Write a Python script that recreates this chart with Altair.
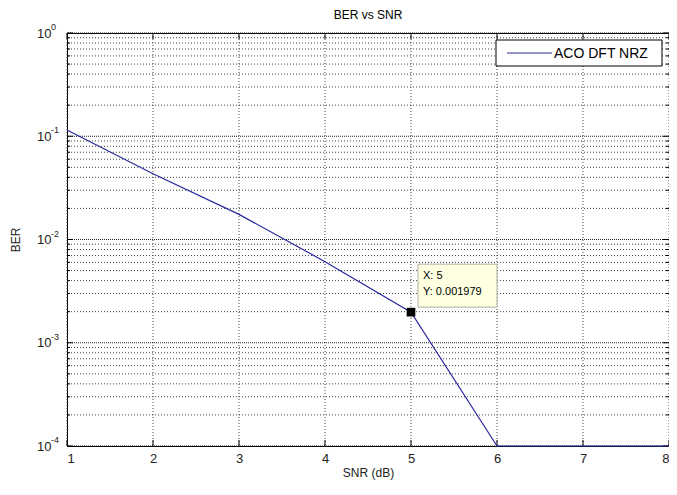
import altair as alt
import pandas as pd

# ---- data ----
snr_db = [1, 2, 3, 4, 5, 6, 7, 8]
ber = [0.115, 0.0434, 0.0175, 0.0061, 0.001979, 0.0001, 0.0001, 0.0001]
series_name = "ACO DFT NRZ"

tip_x = [5]
tip_y = [0.001979]

x_ticks = [1, 2, 3, 4, 5, 6, 7, 8]
y_major = [1e-4, 1e-3, 1e-2, 1e-1, 1]
y_exponents = ["-4", "-3", "-2", "-1", "0"]
y_minor = [m * d for d in [1e-4, 1e-3, 1e-2, 1e-1] for m in [2, 3, 4, 5, 6, 7, 8, 9]]

W, H = 602, 413
FONT = "Liberation Sans"
LINE = "#28289c"

df = pd.DataFrame({"snr": snr_db, "ber": ber})
tip = pd.DataFrame({"snr": tip_x, "ber": tip_y})
tip["lx"] = ["X: " + str(v) for v in tip_x]
tip["ly"] = ["Y: " + str(v) for v in tip_y]
gx = pd.DataFrame({"snr": x_ticks})
gmaj = pd.DataFrame({"ber": y_major, "exp": y_exponents})
gmin = pd.DataFrame({"ber": y_minor})
leg = pd.DataFrame({"series": [series_name]})

xs = alt.Scale(domain=[1, 8], nice=False, zero=False)
ys = alt.Scale(type="log", domain=[1e-4, 1], nice=False)

X = alt.X("snr:Q", scale=xs,
          axis=alt.Axis(values=x_ticks, format="d", title="SNR (dB)", grid=False,
                        ticks=False, labelPadding=6, titlePadding=2))
Y = alt.Y("ber:Q", scale=ys,
          axis=alt.Axis(values=y_major, labelExpr="'10'", title="BER", grid=False,
                        ticks=False, labelPadding=16, titlePadding=14))

xgrid = alt.Chart(gx).mark_rule(color="#444", strokeDash=[1, 2], strokeWidth=1).encode(
    x=alt.X("snr:Q", scale=xs))
ymin_grid = alt.Chart(gmin).mark_rule(color="#444", strokeDash=[1, 2], strokeWidth=1).encode(
    y=alt.Y("ber:Q", scale=ys))
ymaj_grid = alt.Chart(gmaj).mark_rule(color="#222", strokeDash=[1, 1], strokeWidth=1).encode(
    y=alt.Y("ber:Q", scale=ys))

# inward ticks
yminL = alt.Chart(gmin).mark_rule(color="black").encode(
    y=alt.Y("ber:Q", scale=ys), x=alt.value(0), x2=alt.value(3))
yminR = alt.Chart(gmin).mark_rule(color="black").encode(
    y=alt.Y("ber:Q", scale=ys), x=alt.value(W), x2=alt.value(W - 3))
ymajL = alt.Chart(gmaj).mark_rule(color="black").encode(
    y=alt.Y("ber:Q", scale=ys), x=alt.value(0), x2=alt.value(6))
ymajR = alt.Chart(gmaj).mark_rule(color="black").encode(
    y=alt.Y("ber:Q", scale=ys), x=alt.value(W), x2=alt.value(W - 6))
xB = alt.Chart(gx).mark_rule(color="black").encode(
    x=alt.X("snr:Q", scale=xs), y=alt.value(H), y2=alt.value(H - 6))
xT = alt.Chart(gx).mark_rule(color="black").encode(
    x=alt.X("snr:Q", scale=xs), y=alt.value(0), y2=alt.value(6))

# exponent of the y tick labels
yexp = alt.Chart(gmaj).mark_text(align="left", baseline="middle", dy=-6, fontSize=9,
                                 font=FONT, color="#222").encode(
    y=alt.Y("ber:Q", scale=ys), x=alt.value(-16), text="exp:N")

line = alt.Chart(df).mark_line(strokeWidth=1.2, clip=False, color=LINE).encode(x=X, y=Y)

# legend box
LX0 = W - 7 - 166
leg_box = alt.Chart(leg).mark_rect(fill="white", stroke="black", strokeWidth=1).encode(
    x=alt.value(LX0), x2=alt.value(LX0 + 166), y=alt.value(7), y2=alt.value(33))
leg_line = alt.Chart(leg).mark_rule(color=LINE, strokeWidth=1.2).encode(
    x=alt.value(LX0 + 11), x2=alt.value(LX0 + 56), y=alt.value(20))
leg_text = alt.Chart(leg).mark_text(align="left", baseline="middle", fontSize=14,
                                    font=FONT, color="black").encode(
    x=alt.value(LX0 + 58), y=alt.value(20.5), text="series:N")

box = alt.Chart(tip).mark_rect(fill="#ffffe1", stroke="#b0b0a0", strokeWidth=1,
                               xOffset=7, x2Offset=86, yOffset=-48, y2Offset=-5).encode(
    x=alt.X("snr:Q", scale=xs), x2="snr:Q", y=alt.Y("ber:Q", scale=ys), y2="ber:Q")
t1 = alt.Chart(tip).mark_text(align="left", baseline="middle", dx=12, dy=-36,
                              fontSize=11, font=FONT, color="black").encode(
    x=alt.X("snr:Q", scale=xs), y=alt.Y("ber:Q", scale=ys), text="lx:N")
t2 = alt.Chart(tip).mark_text(align="left", baseline="middle", dx=12, dy=-20,
                              fontSize=11, font=FONT, color="black").encode(
    x=alt.X("snr:Q", scale=xs), y=alt.Y("ber:Q", scale=ys), text="ly:N")
pt = alt.Chart(tip).mark_square(size=75, color="black", opacity=1, filled=True).encode(
    x=alt.X("snr:Q", scale=xs), y=alt.Y("ber:Q", scale=ys))

chart = alt.layer(
    xgrid, ymin_grid, ymaj_grid, yminL, yminR, ymajL, ymajR, xB, xT, yexp,
    line, leg_box, leg_line, leg_text, box, t1, t2, pt
).properties(
    width=W, height=H,
    title=alt.TitleParams("BER vs SNR", fontSize=12, fontWeight="normal", font=FONT,
                          color="black", offset=1),
    autosize=alt.AutoSizeParams(type="none"),
    padding={"left": 59, "top": 25, "right": 0, "bottom": 36},
    background="white",
).configure_view(stroke="black", strokeWidth=1).configure_axis(
    domainColor="black", labelFont=FONT, titleFont=FONT, labelFontSize=13,
    titleFontSize=12, labelColor="#222", titleColor="#222", titleFontWeight="normal"
)

chart.save("out.html", embed_options={"renderer": "svg", "actions": False})
